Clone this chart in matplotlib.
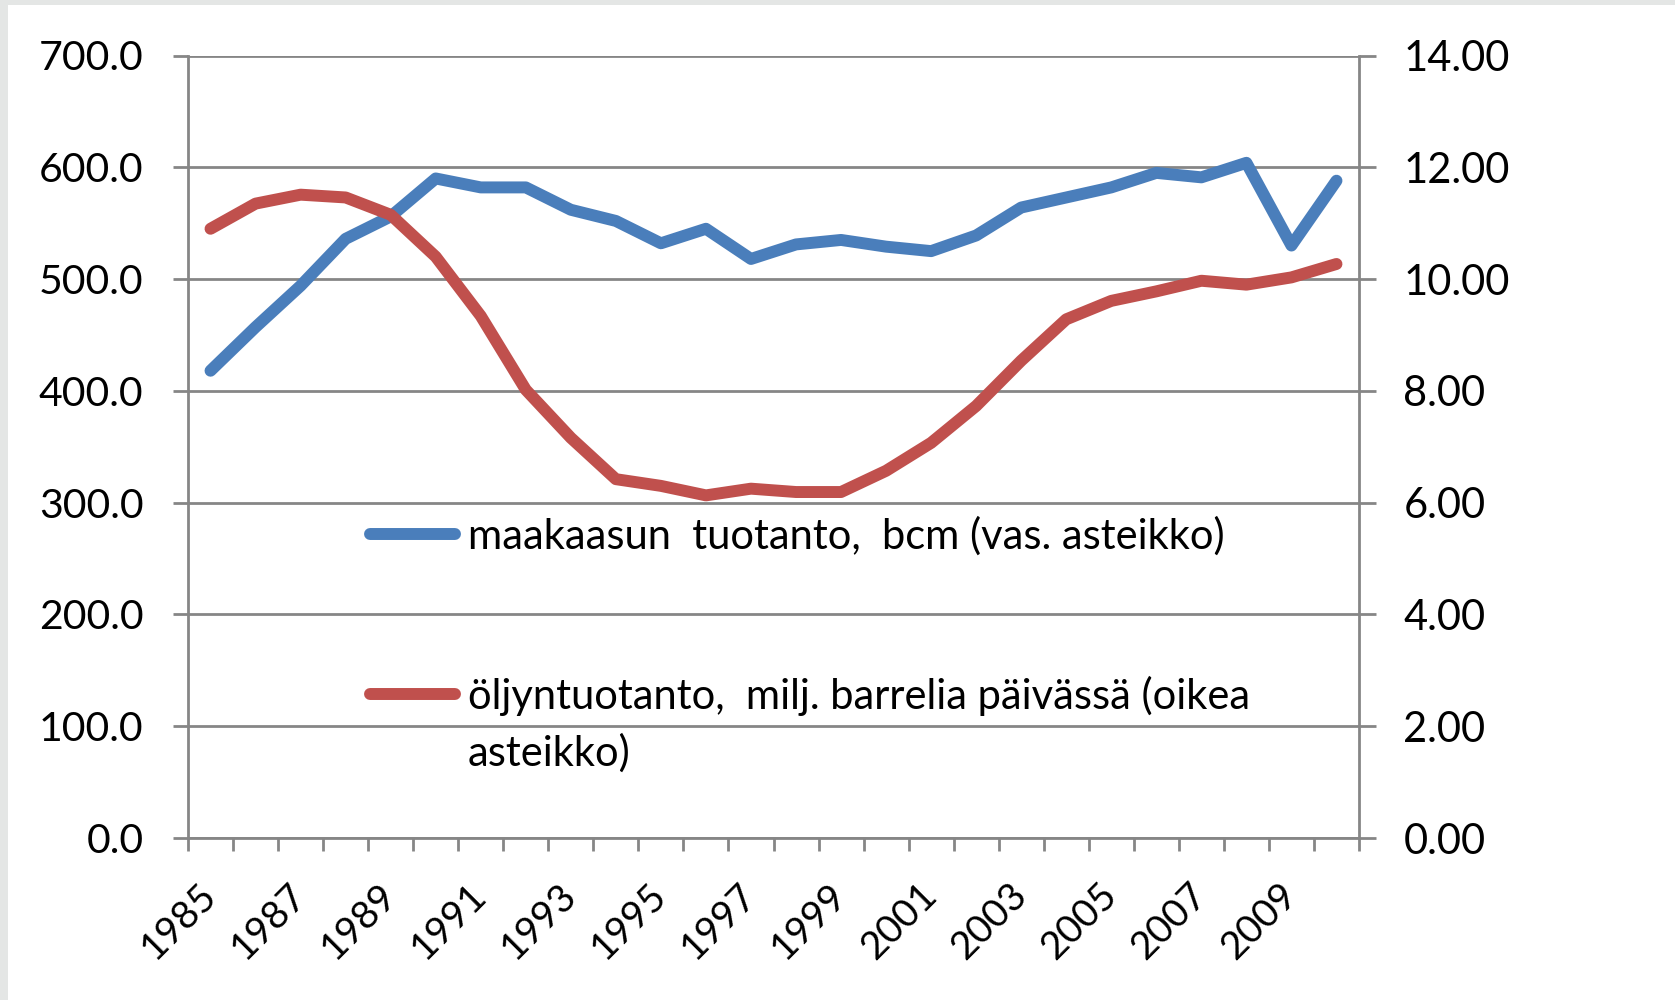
import matplotlib
matplotlib.use("Agg")
import matplotlib.pyplot as plt
from matplotlib.lines import Line2D
from matplotlib.patches import Rectangle
import numpy as np

# ---- data ----
years = list(range(1985, 2011))
gas_bcm = [418, 457, 494, 536, 556, 590, 582, 582, 562, 552, 532, 545, 518,
           531, 535, 529, 525, 539, 564, 573, 582, 595, 591, 604, 530, 588]
oil_mbd = [10.90, 11.35, 11.51, 11.46, 11.15, 10.40, 9.34, 8.02, 7.16, 6.42,
           6.30, 6.13, 6.25, 6.19, 6.19, 6.57, 7.07, 7.73, 8.54, 9.28, 9.61,
           9.78, 9.97, 9.90, 10.03, 10.27]
left_ticks = [0, 100, 200, 300, 400, 500, 600, 700]
right_ticks = [0, 2, 4, 6, 8, 10, 12, 14]
gas_label = "maakaasun  tuotanto,  bcm (vas. asteikko)"
oil_label_1 = "öljyntuotanto,  milj. barrelia päivässä (oikea"
oil_label_2 = "asteikko)"

BLUE = "#4A7EBB"
RED = "#C0504D"
GRID = "#868686"
FONT = "Lato"

plt.rcParams["font.family"] = [FONT, "DejaVu Sans"]

W, H = 1675, 1000
fig = plt.figure(figsize=(W / 100, H / 100), dpi=100, facecolor="#e4e6e5")
fig.add_artist(Rectangle((8 / W, 0), 1, 1 - 5 / H, transform=fig.transFigure,
                         facecolor="white", edgecolor="none", zorder=0))

x = np.arange(len(years))
ax = fig.add_axes([188 / W, 1 - 838 / H, (1359 - 188) / W, (838 - 55.5) / H])
ax.set_facecolor("none")
ax2 = ax.twinx()

lw = 8.6
ax.plot(x, gas_bcm, color=BLUE, lw=lw, solid_capstyle="round",
        solid_joinstyle="round", zorder=3)
ax2.plot(x, oil_mbd, color=RED, lw=lw, solid_capstyle="round",
         solid_joinstyle="round", zorder=3)

ax.set_xlim(-0.5, len(years) - 0.5)
ax.set_ylim(0, 700)
ax2.set_ylim(0, 14)

ax.set_yticks(left_ticks)
ax.set_yticklabels([f"{v:.1f}" for v in left_ticks])
ax2.set_yticks(right_ticks)
ax2.set_yticklabels([f"{v:.2f}" for v in right_ticks])

ax.yaxis.grid(True, color=GRID, lw=2)
ax.set_axisbelow(True)

# x ticks: marks at category boundaries (minor), labels every other year (major)
ax.set_xticks(np.arange(-0.5, len(years), 1.0), minor=True)
ax.set_xticks(x[::2])
ax.set_xticklabels([str(y) for y in years[::2]], rotation=45, ha="right",
                   va="center", rotation_mode="anchor")
ax.tick_params(axis="x", which="major", length=0, pad=37, labelsize=28)
ax.tick_params(axis="x", which="minor", length=9.5, width=2, color=GRID,
               direction="out")
ax.tick_params(axis="y", length=11, width=2, color=GRID, pad=21, labelsize=29.5)
ax2.tick_params(axis="y", length=12, width=2, color=GRID, pad=20, labelsize=30)

for a in (ax, ax2):
    for s in a.spines.values():
        s.set_color(GRID)
        s.set_linewidth(2)
    a.spines["top"].set_visible(False)
ax2.spines["left"].set_visible(False)
ax2.spines["bottom"].set_visible(False)
ax.spines["right"].set_visible(False)

# ---- legend (manual, Excel style) ----
def fx(px):
    return px / W

def fy(py):
    return 1 - py / H

for color, ypx in ((BLUE, 534), (RED, 694)):
    fig.add_artist(Line2D([fx(370), fx(455)], [fy(ypx), fy(ypx)],
                          transform=fig.transFigure, color=color, lw=lw,
                          solid_capstyle="round", zorder=5))
fig.text(fx(468), fy(536), gas_label, fontsize=30, va="center", ha="left")
fig.text(fx(468), fy(696), oil_label_1, fontsize=30, va="center", ha="left")
fig.text(fx(468), fy(753), oil_label_2, fontsize=30, va="center", ha="left")

fig.savefig("out.png", dpi=100, facecolor=fig.get_facecolor())
